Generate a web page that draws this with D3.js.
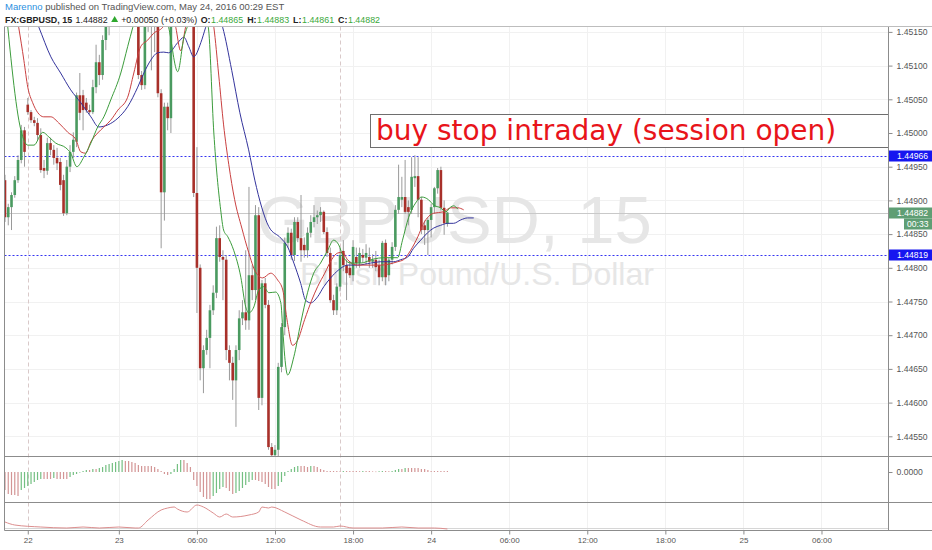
<!DOCTYPE html>
<html><head><meta charset="utf-8">
<script src="https://cdn.jsdelivr.net/npm/d3@7"></script>
<style>
body{margin:0;background:#fff;}
svg{display:block;font-family:"Liberation Sans",Arial,sans-serif;}
</style>
</head><body>
<svg id="c" width="932" height="550"></svg>
<script>
// ---------------- DATA ----------------
const opens = [1.44930,1.44875,1.44890,1.44908,1.44930,1.44960,1.45004,1.45042,1.45031,1.45019,
1.45015,1.44997,1.44948,1.44944,1.44985,1.44975,1.44963,1.44957,1.44930,1.44881,
1.44950,1.44972,1.44987,1.45056,1.45056,1.45045,1.45034,1.45031,1.45068,1.45105,
1.45086,1.45138,1.45160,1.45182,1.45210,1.45200,1.45250,1.45240,1.45270,1.45260,
1.45220,1.45190,1.45086,1.45071,1.45180,1.45200,1.45190,1.45185,1.45059,1.44912,
1.45039,1.45022,1.45180,1.45220,1.45240,1.45210,1.45230,1.45250,1.45200,1.44911,
1.44800,1.44651,1.44678,1.44696,1.44737,1.44763,1.44844,1.44816,1.44812,1.44678,
1.44659,1.44633,1.44678,1.44725,1.44734,1.44722,1.44789,1.44767,1.44878,1.44607,
1.44777,1.44745,1.44534,1.44522,1.44530,1.44653,1.44712,1.44837,1.44852,1.44819,
1.44868,1.44844,1.44834,1.44826,1.44852,1.44868,1.44875,1.44878,1.44883,1.44853,
1.44822,1.44752,1.44737,1.44772,1.44825,1.44804,1.44800,1.44789,1.44816,1.44807,
1.44819,1.44815,1.44816,1.44809,1.44812,1.44804,1.44786,1.44837,1.44789,1.44812,
1.44831,1.44886,1.44901,1.44905,1.44890,1.44886,1.44933,1.44936,1.44901,1.44863,
1.44856,1.44871,1.44890,1.44918,1.44945,1.44889,1.44865];
const highs = [1.44938,1.44895,1.44912,1.44936,1.44967,1.45012,1.45009,1.45052,1.45034,1.45024,
1.45022,1.45007,1.44960,1.44993,1.44993,1.44982,1.44978,1.44963,1.44938,1.44960,
1.44982,1.45001,1.45060,1.45089,1.45064,1.45052,1.45042,1.45079,1.45131,1.45116,
1.45145,1.45175,1.45197,1.45220,1.45240,1.45260,1.45280,1.45290,1.45300,1.45280,
1.45240,1.45196,1.45092,1.45200,1.45220,1.45230,1.45210,1.45200,1.45065,1.45045,
1.45045,1.45200,1.45230,1.45260,1.45270,1.45250,1.45260,1.45270,1.45220,1.44979,
1.44805,1.44685,1.44708,1.44745,1.44774,1.44861,1.44863,1.44826,1.44819,1.44685,
1.44668,1.44685,1.44737,1.44752,1.44826,1.44920,1.44804,1.44893,1.44890,1.44782,
1.44785,1.44752,1.44540,1.44537,1.44659,1.44718,1.44845,1.44860,1.44858,1.44875,
1.44875,1.44908,1.44845,1.44860,1.44878,1.44893,1.44885,1.44890,1.44885,1.44860,
1.44830,1.44760,1.44777,1.44830,1.44841,1.44812,1.44810,1.44841,1.44830,1.44830,
1.44828,1.44835,1.44830,1.44820,1.44825,1.44812,1.44840,1.44842,1.44815,1.44838,
1.44893,1.44953,1.44935,1.44960,1.44900,1.44964,1.44967,1.44964,1.44905,1.44870,
1.44875,1.44895,1.44920,1.44948,1.44950,1.44900,1.44883];
const lows = [1.44868,1.44863,1.44856,1.44904,1.44926,1.44955,1.44950,1.45027,1.45015,1.45010,
1.44990,1.44941,1.44933,1.44938,1.44967,1.44953,1.44945,1.44915,1.44877,1.44878,
1.44942,1.44963,1.44979,1.45019,1.45004,1.45030,1.45028,1.45028,1.45059,1.45071,
1.45079,1.45123,1.45145,1.45170,1.45190,1.45195,1.45230,1.45220,1.45240,1.45200,
1.45170,1.45080,1.45064,1.45065,1.45150,1.45093,1.45120,1.45053,1.44829,1.44870,
1.45004,1.45000,1.45160,1.45200,1.45190,1.45180,1.45200,1.45190,1.44905,1.44733,
1.44633,1.44614,1.44671,1.44651,1.44730,1.44755,1.44809,1.44752,1.44663,1.44633,
1.44604,1.44564,1.44663,1.44715,1.44708,1.44708,1.44752,1.44752,1.44589,1.44596,
1.44740,1.44530,1.44518,1.44515,1.44515,1.44645,1.44700,1.44830,1.44812,1.44810,
1.44838,1.44809,1.44815,1.44815,1.44845,1.44860,1.44865,1.44868,1.44850,1.44816,
1.44748,1.44730,1.44730,1.44765,1.44795,1.44752,1.44785,1.44780,1.44800,1.44800,
1.44808,1.44805,1.44800,1.44800,1.44795,1.44774,1.44780,1.44774,1.44780,1.44805,
1.44825,1.44880,1.44890,1.44880,1.44863,1.44880,1.44920,1.44875,1.44850,1.44834,
1.44819,1.44845,1.44880,1.44910,1.44885,1.44849,1.44861];
const closes = [1.44875,1.44890,1.44908,1.44930,1.44960,1.45004,1.44972,1.45031,1.45019,1.45015,
1.44997,1.44945,1.44944,1.44985,1.44975,1.44963,1.44955,1.44923,1.44881,1.44950,
1.44972,1.44990,1.45056,1.45030,1.45034,1.45034,1.45031,1.45068,1.45105,1.45086,
1.45138,1.45160,1.45182,1.45210,1.45200,1.45250,1.45240,1.45270,1.45260,1.45220,
1.45190,1.45086,1.45071,1.45180,1.45200,1.45190,1.45185,1.45059,1.44912,1.45039,
1.45022,1.45180,1.45220,1.45240,1.45210,1.45230,1.45250,1.45200,1.44911,1.44800,
1.44651,1.44678,1.44696,1.44737,1.44763,1.44844,1.44816,1.44812,1.44678,1.44659,
1.44633,1.44678,1.44725,1.44734,1.44722,1.44789,1.44767,1.44878,1.44607,1.44777,
1.44745,1.44534,1.44522,1.44530,1.44653,1.44712,1.44837,1.44852,1.44819,1.44868,
1.44844,1.44826,1.44826,1.44852,1.44868,1.44875,1.44878,1.44883,1.44853,1.44822,
1.44752,1.44737,1.44772,1.44819,1.44804,1.44792,1.44789,1.44831,1.44807,1.44822,
1.44815,1.44822,1.44809,1.44812,1.44801,1.44786,1.44837,1.44786,1.44812,1.44831,
1.44886,1.44905,1.44905,1.44883,1.44883,1.44935,1.44936,1.44901,1.44856,1.44856,
1.44871,1.44890,1.44918,1.44945,1.44889,1.44866,1.44882];

// Alligator lines: [bar index, price]
const lipsGreen = [[0,1.45200],[4.9,1.45004],[7,1.44982],[8.9,1.44982],[11.6,1.45001],[13.5,1.44994],[15.6,1.44985],[18.7,1.44978],[20.2,1.44970],[22.1,1.44950],[24.2,1.44964],[26.4,1.44985],[28.5,1.45009],[30.4,1.45024],[32.5,1.45049],[35.6,1.45089],[37.7,1.45128],[39.3,1.45157],[42,1.45200],[47,1.45210],[50.3,1.45157],[53.1,1.45091],[55,1.45142],[56,1.45157],[59,1.45210],[62.5,1.45157],[64.2,1.45000],[66.3,1.44886],[67.2,1.44856],[68.5,1.44846],[70.3,1.44826],[72.5,1.44786],[74,1.44742],[74.9,1.44733],[76.5,1.44742],[78,1.44767],[79.5,1.44772],[81.1,1.44763],[83.2,1.44764],[84.8,1.44748],[85.4,1.44708],[86,1.44668],[86.9,1.44641],[88.8,1.44668],[90.9,1.44718],[93,1.44763],[94.9,1.44792],[97,1.44807],[99.2,1.44826],[101,1.44841],[102.6,1.44834],[104.1,1.44815],[106.3,1.44807],[109.3,1.44807],[113.3,1.44813],[116.4,1.44815],[120.7,1.44815],[122.2,1.44841],[124.1,1.44875],[126.2,1.44896],[128.1,1.44905],[130.2,1.44901],[131.8,1.44893],[133.9,1.44889],[135.5,1.44883],[137,1.44890],[137.9,1.44892],[139.2,1.44887]];
const teethRed = [[0,1.45250],[4.2,1.45157],[5.8,1.45108],[7,1.45068],[8.5,1.45045],[10.1,1.45030],[11.9,1.45024],[14.1,1.45024],[16.5,1.45015],[19.3,1.45001],[21.8,1.44990],[23.3,1.44972],[24.8,1.44970],[26.4,1.44987],[28.5,1.45000],[30.4,1.45009],[32.5,1.45019],[34.7,1.45034],[37.7,1.45053],[39.6,1.45089],[41.7,1.45128],[43.9,1.45138],[45.7,1.45148],[48.5,1.45157],[51,1.45190],[52.5,1.45157],[54,1.45122],[55.5,1.45157],[58,1.45210],[62,1.45200],[64.2,1.45157],[65.7,1.45086],[67.2,1.45012],[68.8,1.44953],[70.6,1.44901],[72.8,1.44859],[74.9,1.44823],[77,1.44794],[79.2,1.44785],[81.7,1.44792],[83.8,1.44782],[85.4,1.44767],[86.6,1.44726],[88.4,1.44685],[90,1.44693],[92.1,1.44723],[94.3,1.44752],[96.1,1.44772],[98.3,1.44792],[100.4,1.44812],[102.3,1.44822],[103.8,1.44823],[105.3,1.44812],[108.4,1.44804],[115.5,1.44804],[120.7,1.44809],[122.5,1.44812],[124.7,1.44826],[126.9,1.44846],[128.7,1.44866],[131.8,1.44881],[134.8,1.44883],[137,1.44889],[139.2,1.44889],[141,1.44886]];
const jawBlue = [[0,1.45300],[5,1.45220],[10.4,1.45157],[14.1,1.45113],[17.1,1.45089],[20.2,1.45064],[23.3,1.45045],[26.4,1.45024],[28.8,1.45009],[31.6,1.45012],[34.7,1.45022],[37.7,1.45039],[40.8,1.45068],[42.7,1.45089],[44.8,1.45108],[46.9,1.45119],[48.8,1.45120],[50.3,1.45119],[53.1,1.45134],[55,1.45142],[56.5,1.45128],[58,1.45113],[60.2,1.45134],[61.7,1.45157],[64,1.45190],[66.9,1.45157],[69.7,1.45093],[72.2,1.45030],[74.9,1.44975],[76.8,1.44930],[78.9,1.44890],[81.1,1.44861],[84.8,1.44844],[86.9,1.44831],[88.8,1.44807],[90.9,1.44777],[92.4,1.44752],[94,1.44748],[96.1,1.44757],[98,1.44772],[100.1,1.44785],[102.6,1.44797],[105.3,1.44804],[108.4,1.44804],[112.4,1.44807],[115.5,1.44809],[119.5,1.44809],[121.6,1.44812],[123.8,1.44816],[125.6,1.44829],[127.8,1.44841],[129.9,1.44852],[131.8,1.44859],[133.9,1.44863],[136.1,1.44866],[137.9,1.44866],[140.1,1.44871],[142.2,1.44874],[144.1,1.44874]];

// MACD histogram (units of 0.00001)
const macdHist = [-18,-22,-23,-23,-24,-18,-16,-14,-12,-10,-8,-7,-7,-7,-7,-6,-7,-7,-7,-7,
-5,-3,-2,0,1,2,2,3,3,4,5,7,8,9,10,11,12,11,11,10,9,7,6,6,6,6,5,3,1,-2,
-3,-2,3,8,12,12,9,5,-8,-14,-20,-25,-27,-27,-24,-21,-17,-15,-16,-19,-22,-21,-19,-16,-13,-10,-8,-8,-9,-10,
-12,-15,-17,-17,-14,-10,-4,1,3,5,6,6,6,5,6,6,5,3,2,1,
1,1,1,0.8,1,1,1,1,1,0.8,1,1,1,0.6,0.5,0.8,1,1,0.8,1,
2,3,3,4,4,4,4,4,3,3,2,1,1,1,1,1,1];
// lower indicator line: [bar index, value]
const lowerLine = [[0,8],[3,5],[11,3],[19,2],[24,3],[29,2],[35,3],[40,2],[41,2],[44,10],[48,20],[50,22],[52,23],[53,21],[56,18],[59,25],[61,23],[64,17],[66,13],[68,16],[70,13],[75,15],[78,18],[79,23],[81,22],[82,23],[86,18],[91,10],[97,3],[101,3],[103,4],[107,2],[116,2],[122,3],[127,2],[132,2],[136,1]];

const priceTicks = [1.4455,1.4460,1.4465,1.4470,1.4475,1.4480,1.4485,1.4490,1.4495,1.4500,1.4505,1.4510,1.4515];
const timeTickIdx = [7,35,59,83,107,131,155,179,203,227,251];
const timeTickLabels = ["22","23","06:00","12:00","18:00","24","06:00","12:00","18:00","25","06:00"];
const sessionBreakIdx = [7,103];
const levelLines = [1.44966,1.44819];
const lastPrice = 1.44882;
const annotation = "buy stop intraday (session open)";

// ---------------- LAYOUT ----------------
const L = 4.5, R = 888.5, T = 26.5, MB = 456.5, HB = 502.5, LB = 530.5;
const svg = d3.select("#c");
const x = d3.scaleLinear().domain([0,136]).range([5,447.4]);
const y = d3.scaleLinear().domain([1.4455,1.4515]).range([436.3,31.9]);
const yM = d3.scaleLinear().domain([-30,16]).range([502,456]);
const yL = d3.scaleLinear().domain([0,28]).range([530,502]);

const defs = svg.append("defs");
defs.append("clipPath").attr("id","cm").append("rect").attr("x",L).attr("y",T).attr("width",R-L).attr("height",MB-T);
defs.append("clipPath").attr("id","cl").append("rect").attr("x",L).attr("y",HB).attr("width",R-L).attr("height",LB-HB);

// grid
const grid = svg.append("g");
grid.selectAll("line.h").data(priceTicks).join("line")
  .attr("x1",L).attr("x2",R).attr("y1",d=>Math.round(y(d))+0.5).attr("y2",d=>Math.round(y(d))+0.5)
  .attr("stroke","#f1f1f1");
grid.selectAll("line.v").data(timeTickIdx.filter(i=>!sessionBreakIdx.includes(i))).join("line")
  .attr("x1",d=>Math.round(x(d))+0.5).attr("x2",d=>Math.round(x(d))+0.5).attr("y1",T).attr("y2",LB)
  .attr("stroke","#f1f1f1");

// watermark
svg.append("text").attr("x",257).attr("y",243).attr("font-size",67).attr("fill","#e6e6e6").text("GBPUSD, 15");
svg.append("text").attr("x",300).attr("y",285).attr("font-size",32).attr("fill","#e6e6e6").text("British Pound/U.S. Dollar");

// session breaks
svg.selectAll("line.sb").data(sessionBreakIdx).join("line")
  .attr("x1",d=>Math.round(x(d))+0.5).attr("x2",d=>Math.round(x(d))+0.5).attr("y1",T).attr("y2",LB)
  .attr("stroke","#d9c9c9").attr("stroke-dasharray","4,3");

// last price line
svg.append("line").attr("x1",L).attr("x2",R).attr("y1",Math.round(y(lastPrice))+0.5).attr("y2",Math.round(y(lastPrice))+0.5)
  .attr("stroke","#c9c9c9");

// level lines
svg.selectAll("line.lv").data(levelLines).join("line")
  .attr("x1",L).attr("x2",R).attr("y1",d=>Math.round(y(d))+0.5).attr("y2",d=>Math.round(y(d))+0.5)
  .attr("stroke","#3535f0").attr("stroke-dasharray","2,2");

// candles
const bars = d3.range(opens.length).map(i=>({i,o:opens[i],h:highs[i],l:lows[i],c:closes[i]}));
const cg = svg.append("g").attr("clip-path","url(#cm)");
cg.selectAll("line.w").data(bars).join("line")
  .attr("x1",d=>x(d.i)).attr("x2",d=>x(d.i)).attr("y1",d=>y(d.h)).attr("y2",d=>y(d.l))
  .attr("stroke","#9a9a9a").attr("stroke-width",1);
cg.selectAll("rect.b").data(bars).join("rect")
  .attr("x",d=>x(d.i)-1.3).attr("width",2.6)
  .attr("y",d=>y(Math.max(d.o,d.c))).attr("height",d=>Math.max(1,Math.abs(y(d.o)-y(d.c))))
  .attr("fill",d=>d.c>=d.o?"#4a9a60":"#a8302a");

// alligator lines
const line = d3.line().x(d=>x(d[0])).y(d=>y(d[1])).curve(d3.curveMonotoneX);
[[jawBlue,"#34349c"],[teethRed,"#c94040"],[lipsGreen,"#3c9c3c"]].forEach(([data,col])=>{
  cg.append("path").attr("d",line(data)).attr("fill","none").attr("stroke",col).attr("stroke-width",1);
});

// annotation
svg.append("rect").attr("x",370.5).attr("y",114.5).attr("width",R-370.5).attr("height",33)
  .attr("fill","#fff").attr("stroke","#6e6e6e");
svg.append("text").attr("x",376).attr("y",140).attr("font-family","DejaVu Sans").attr("font-size",28)
  .attr("fill","#e8141a").text(annotation);

// MACD histogram
svg.append("g").selectAll("rect").data(macdHist).join("rect")
  .attr("x",(d,i)=>x(i)-0.6).attr("width",1.2)
  .attr("y",d=>Math.min(yM(d),yM(0))).attr("height",d=>Math.max(0.6,Math.abs(yM(d)-yM(0))))
  .attr("fill",(d,i)=> (i>0 && d>macdHist[i-1]) ? "#74bf82" : "#d39595");

// lower pane
svg.append("line").attr("x1",L).attr("x2",R).attr("y1",528.5).attr("y2",528.5).attr("stroke","#d6d6d6");
svg.append("path").attr("clip-path","url(#cl)")
  .attr("d",d3.line().x(d=>x(d[0])).y(d=>yL(d[1])).curve(d3.curveMonotoneX)(lowerLine))
  .attr("fill","none").attr("stroke","#dc8e8e").attr("stroke-width",1);

// frame
const fr = svg.append("g").attr("stroke","#8c8c8c").attr("fill","none");
fr.append("line").attr("x1",L).attr("x2",L).attr("y1",T).attr("y2",LB);
fr.append("line").attr("x1",R).attr("x2",R).attr("y1",T).attr("y2",LB);
fr.append("line").attr("x1",L).attr("x2",932).attr("y1",T).attr("y2",T).attr("stroke","#bdbdbd");
fr.append("line").attr("x1",L).attr("x2",932).attr("y1",MB).attr("y2",MB);
fr.append("line").attr("x1",L).attr("x2",932).attr("y1",HB).attr("y2",HB);
fr.append("line").attr("x1",L).attr("x2",932).attr("y1",LB).attr("y2",LB);

// axes
const styleAxis = g => {
  g.select(".domain").remove();
  g.selectAll(".tick line").attr("stroke","#8c8c8c");
  g.selectAll(".tick text").attr("fill","#555").attr("font-family","Liberation Sans, Arial, sans-serif");
};
svg.append("g").attr("transform",`translate(${R},0)`)
  .call(d3.axisRight(y).tickValues(priceTicks).tickFormat(d3.format(".5f")).tickSize(4).tickPadding(4))
  .attr("font-size",8.6).call(styleAxis);
svg.append("g").attr("transform",`translate(${R},0)`)
  .call(d3.axisRight(yM).tickValues([0]).tickFormat(d3.format(".4f")).tickSize(4).tickPadding(4))
  .attr("font-size",8.6).call(styleAxis);
svg.append("g").attr("transform",`translate(0,${LB})`)
  .call(d3.axisBottom(x).tickValues(timeTickIdx).tickFormat((d,i)=>timeTickLabels[i]).tickSize(4).tickPadding(3))
  .attr("font-size",8).call(styleAxis);

// price labels on axis
const tag = (p, col, txt, x0) => {
  const yy = Math.round(y(p));
  svg.append("rect").attr("x",x0).attr("y",yy-5.5).attr("width",932-x0).attr("height",11).attr("fill",col);
  svg.append("text").attr("x",x0+8).attr("y",yy+3).attr("font-size",8.6).attr("fill","#fff").text(txt);
};
levelLines.forEach(p=>tag(p,"#1616f0",d3.format(".5f")(p),R+0.5));
tag(lastPrice,"#5f9e74",d3.format(".5f")(lastPrice),R+0.5);
{
  const yy = Math.round(y(lastPrice))+11;
  svg.append("rect").attr("x",904).attr("y",yy-5.5).attr("width",28).attr("height",11).attr("fill","#5f9e74");
  svg.append("text").attr("x",907).attr("y",yy+3).attr("font-size",8.6).attr("fill","#fff").text("00:33");
}

// header line 1
const hd = svg.append("g").attr("font-size",9.5);
const t1 = hd.append("text").attr("x",5).attr("y",10);
t1.append("tspan").attr("fill","#2b8fe0").text("Marenno");
t1.append("tspan").attr("fill","#555").text(" published on TradingView.com, May 24, 2016 00:29 EST");

// header line 2: chained segments
const h2 = svg.append("g").attr("font-size",8.9);
let cx = 5;
const seg = (txt, opts) => {
  const t = h2.append("text").attr("x",cx).attr("y",22.5).attr("fill",opts.fill||"#222")
    .attr("font-weight",opts.bold?"bold":"normal").text(txt);
  cx += t.node().getComputedTextLength() + (opts.gap===undefined?3.5:opts.gap);
};
seg("FX:GBPUSD, 15",{bold:true});
seg("1.44882",{});
h2.append("path").attr("d",`M${cx},22 L${cx+3.5},16 L${cx+7},22 Z`).attr("fill","#2ea82e");
cx += 10;
seg("+0.00050 (+0.03%)",{});
const ohlc = [["O:","1.44865"],["H:","1.44883"],["L:","1.44861"],["C:","1.44882"]];
ohlc.forEach(([k,v])=>{
  seg(k,{bold:true,gap:0.5});
  seg(v,{fill:"#3aa83a",gap:4});
});
</script>
</body></html>
